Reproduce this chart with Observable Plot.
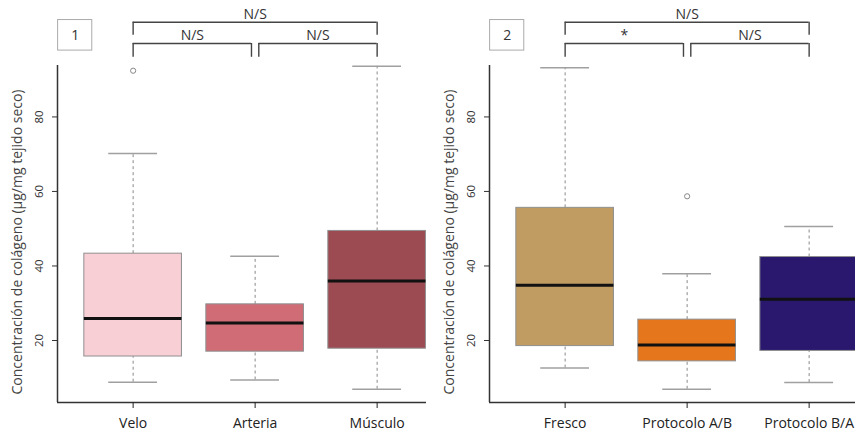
<!DOCTYPE html>
<html>
<head>
<meta charset="utf-8">
<script src="https://cdn.jsdelivr.net/npm/d3@7"></script>
<script src="https://cdn.jsdelivr.net/npm/@observablehq/plot@0.6"></script>
<style>
  body { margin: 0; background: #fff; }
  #wrap { display: flex; width: 855px; height: 434px; overflow: hidden; }
  svg { font-family: "Open Sans", sans-serif; }
</style>
</head>
<body>
<div id="wrap"></div>
<script>
// ---- Panel 1 data ----
const cats1 = ["Velo", "Arteria", "Músculo"];
const min1 = [8.8, 9.4, 6.9];
const q1_1 = [15.7, 17.0, 17.8];
const med1 = [25.9, 24.7, 36.0];
const q3_1 = [43.3, 29.7, 49.4];
const max1 = [70.2, 42.6, 93.6];
const out1 = [{g: 1, v: 92.4}];
const colors1 = ["#f9cfd6", "#cf6c76", "#9d4b52"];
const brackets1 = [
  {a: 1, b: 3, level: "top", label: "N/S"},
  {a: 1, b: 2, level: "low", label: "N/S"},
  {a: 2, b: 3, level: "low", label: "N/S"}
];

// ---- Panel 2 data ----
const cats2 = ["Fresco", "Protocolo A/B", "Protocolo B/A"];
const min2 = [12.6, 6.9, 8.7];
const q1_2 = [18.5, 14.4, 17.2];
const med2 = [34.8, 18.8, 31.1];
const q3_2 = [55.6, 25.6, 42.4];
const max2 = [93.2, 37.9, 50.6];
const out2 = [{g: 2, v: 58.7}];
const colors2 = ["#c09c63", "#e6761c", "#29186e"];
const brackets2 = [
  {a: 1, b: 3, level: "top", label: "N/S"},
  {a: 1, b: 2, level: "low", label: "*"},
  {a: 2, b: 3, level: "low", label: "N/S"}
];

const yTicks = [20, 40, 60, 80];
const yTitle = "Concentración de colágeno (µg/mg tejido seco)";

function panel({cats, mins, q1s, meds, q3s, maxs, outs, colors, brackets, tag, width, marginLeft}) {
  const stats = cats.map((c, i) => ({
    g: i + 1, cat: c, min: mins[i], q1: q1s[i], med: meds[i], q3: q3s[i], max: maxs[i], color: colors[i]
  }));
  const half = 0.4, cap = 0.2;
  const yDom = [3.36, 93.8];
  const xMin = 0.38;
  const xMax = xMin + (width - marginLeft) / 122;
  // bracket geometry in data units
  const lv = {top: {bar: 105.4, leg: 101.9, text: 107.4}, low: {bar: 99.7, leg: 96.0, text: 101.9}};
  const gap = 0.03;
  const br = brackets.map(d => {
    const x1 = d.level === "low" && d.a === 2 ? d.a + gap : d.a;
    const x2 = d.level === "low" && d.b === 2 ? d.b - gap : d.b;
    return {...d, x1, x2, bar: lv[d.level].bar, leg: lv[d.level].leg, ty: lv[d.level].text};
  });
  const legs = br.flatMap(d => [{x: d.x1, y1: d.leg, y2: d.bar}, {x: d.x2, y1: d.leg, y2: d.bar}]);
  const tagBox = [{x1: xMin + 0.005, x2: xMin + 0.285, y1: 97.8, y2: 106.0, label: tag}];

  return Plot.plot({
    width, height: 434,
    marginLeft, marginRight: 0, marginTop: 65, marginBottom: 32,
    style: {fontFamily: "Open Sans, sans-serif", overflow: "visible"},
    x: {domain: [xMin, xMax], axis: null},
    y: {domain: yDom, axis: null},
    marks: [
      // whiskers
      Plot.ruleX(stats, {x: "g", y1: "q3", y2: "max", stroke: "#8a8a8a", strokeWidth: 1, strokeDasharray: "3,3", clip: true}),
      Plot.ruleX(stats, {x: "g", y1: "min", y2: "q1", stroke: "#8a8a8a", strokeWidth: 1, strokeDasharray: "3,3", clip: true}),
      // caps
      Plot.ruleY(stats, {y: "max", x1: d => d.g - cap, x2: d => d.g + cap, stroke: "#a0a0a0", strokeWidth: 1.5, clip: true}),
      Plot.ruleY(stats, {y: "min", x1: d => d.g - cap, x2: d => d.g + cap, stroke: "#a0a0a0", strokeWidth: 1.5, clip: true}),
      // boxes
      Plot.rect(stats, {x1: d => d.g - half, x2: d => d.g + half, y1: "q1", y2: "q3", fill: "color", stroke: "#8f8f8f", strokeWidth: 1, clip: true}),
      // medians
      Plot.ruleY(stats, {y: "med", x1: d => d.g - half, x2: d => d.g + half, stroke: "#111", strokeWidth: 3, clip: true}),
      // outliers
      Plot.dot(outs, {x: "g", y: "v", r: 2.6, stroke: "#888", strokeWidth: 1, fill: "none"}),
      // axis lines
      Plot.ruleX([xMin], {y1: yDom[0], y2: yDom[1], stroke: "#333", strokeWidth: 1.5}),
      Plot.ruleY([yDom[0]], {x1: xMin, x2: xMax, stroke: "#333", strokeWidth: 1.5}),
      // y axis ticks + rotated labels
      Plot.axisY({ticks: yTicks, tickSize: 5, tickFormat: () => "", label: null, color: "#333"}),
      Plot.text(yTicks, {x: xMin, y: d => d, text: d => String(d), rotate: -90, dx: -18, textAnchor: "middle", lineAnchor: "middle", fontSize: 11.5, fill: "#333"}),
      // x axis ticks
      Plot.axisX({ticks: stats.map(d => d.g), tickFormat: g => cats[g - 1], tickSize: 6, tickPadding: 10, fontSize: 14, color: "#222", label: null}),
      // y title
      Plot.text([yTitle], {frameAnchor: "left", dx: -40, dy: 8, rotate: -90, text: d => d, textAnchor: "middle", lineAnchor: "middle", fontSize: 14, fill: "#444"}),
      // brackets
      Plot.ruleY(br, {y: "bar", x1: "x1", x2: "x2", stroke: "#444", strokeWidth: 1.4}),
      Plot.ruleX(legs, {x: "x", y1: "y1", y2: "y2", stroke: "#444", strokeWidth: 1.4}),
      Plot.text(br, {x: d => (d.x1 + d.x2) / 2, y: "ty", text: "label", fontSize: 14, fill: "#333"}),
      // tag box
      Plot.rect(tagBox, {x1: "x1", x2: "x2", y1: "y1", y2: "y2", fill: "white", stroke: "#aaa", strokeWidth: 1}),
      Plot.text(tagBox, {x: d => (d.x1 + d.x2) / 2, y: d => (d.y1 + d.y2) / 2, text: "label", fontSize: 14, fill: "#333"})
    ]
  });
}

const wrap = document.getElementById("wrap");
wrap.append(panel({cats: cats1, mins: min1, q1s: q1_1, meds: med1, q3s: q3_1, maxs: max1, outs: out1,
  colors: colors1, brackets: brackets1, tag: "1", width: 426, marginLeft: 57}));
wrap.append(panel({cats: cats2, mins: min2, q1s: q1_2, meds: med2, q3s: q3_2, maxs: max2, outs: out2,
  colors: colors2, brackets: brackets2, tag: "2", width: 429, marginLeft: 63}));
</script>
</body>
</html>
